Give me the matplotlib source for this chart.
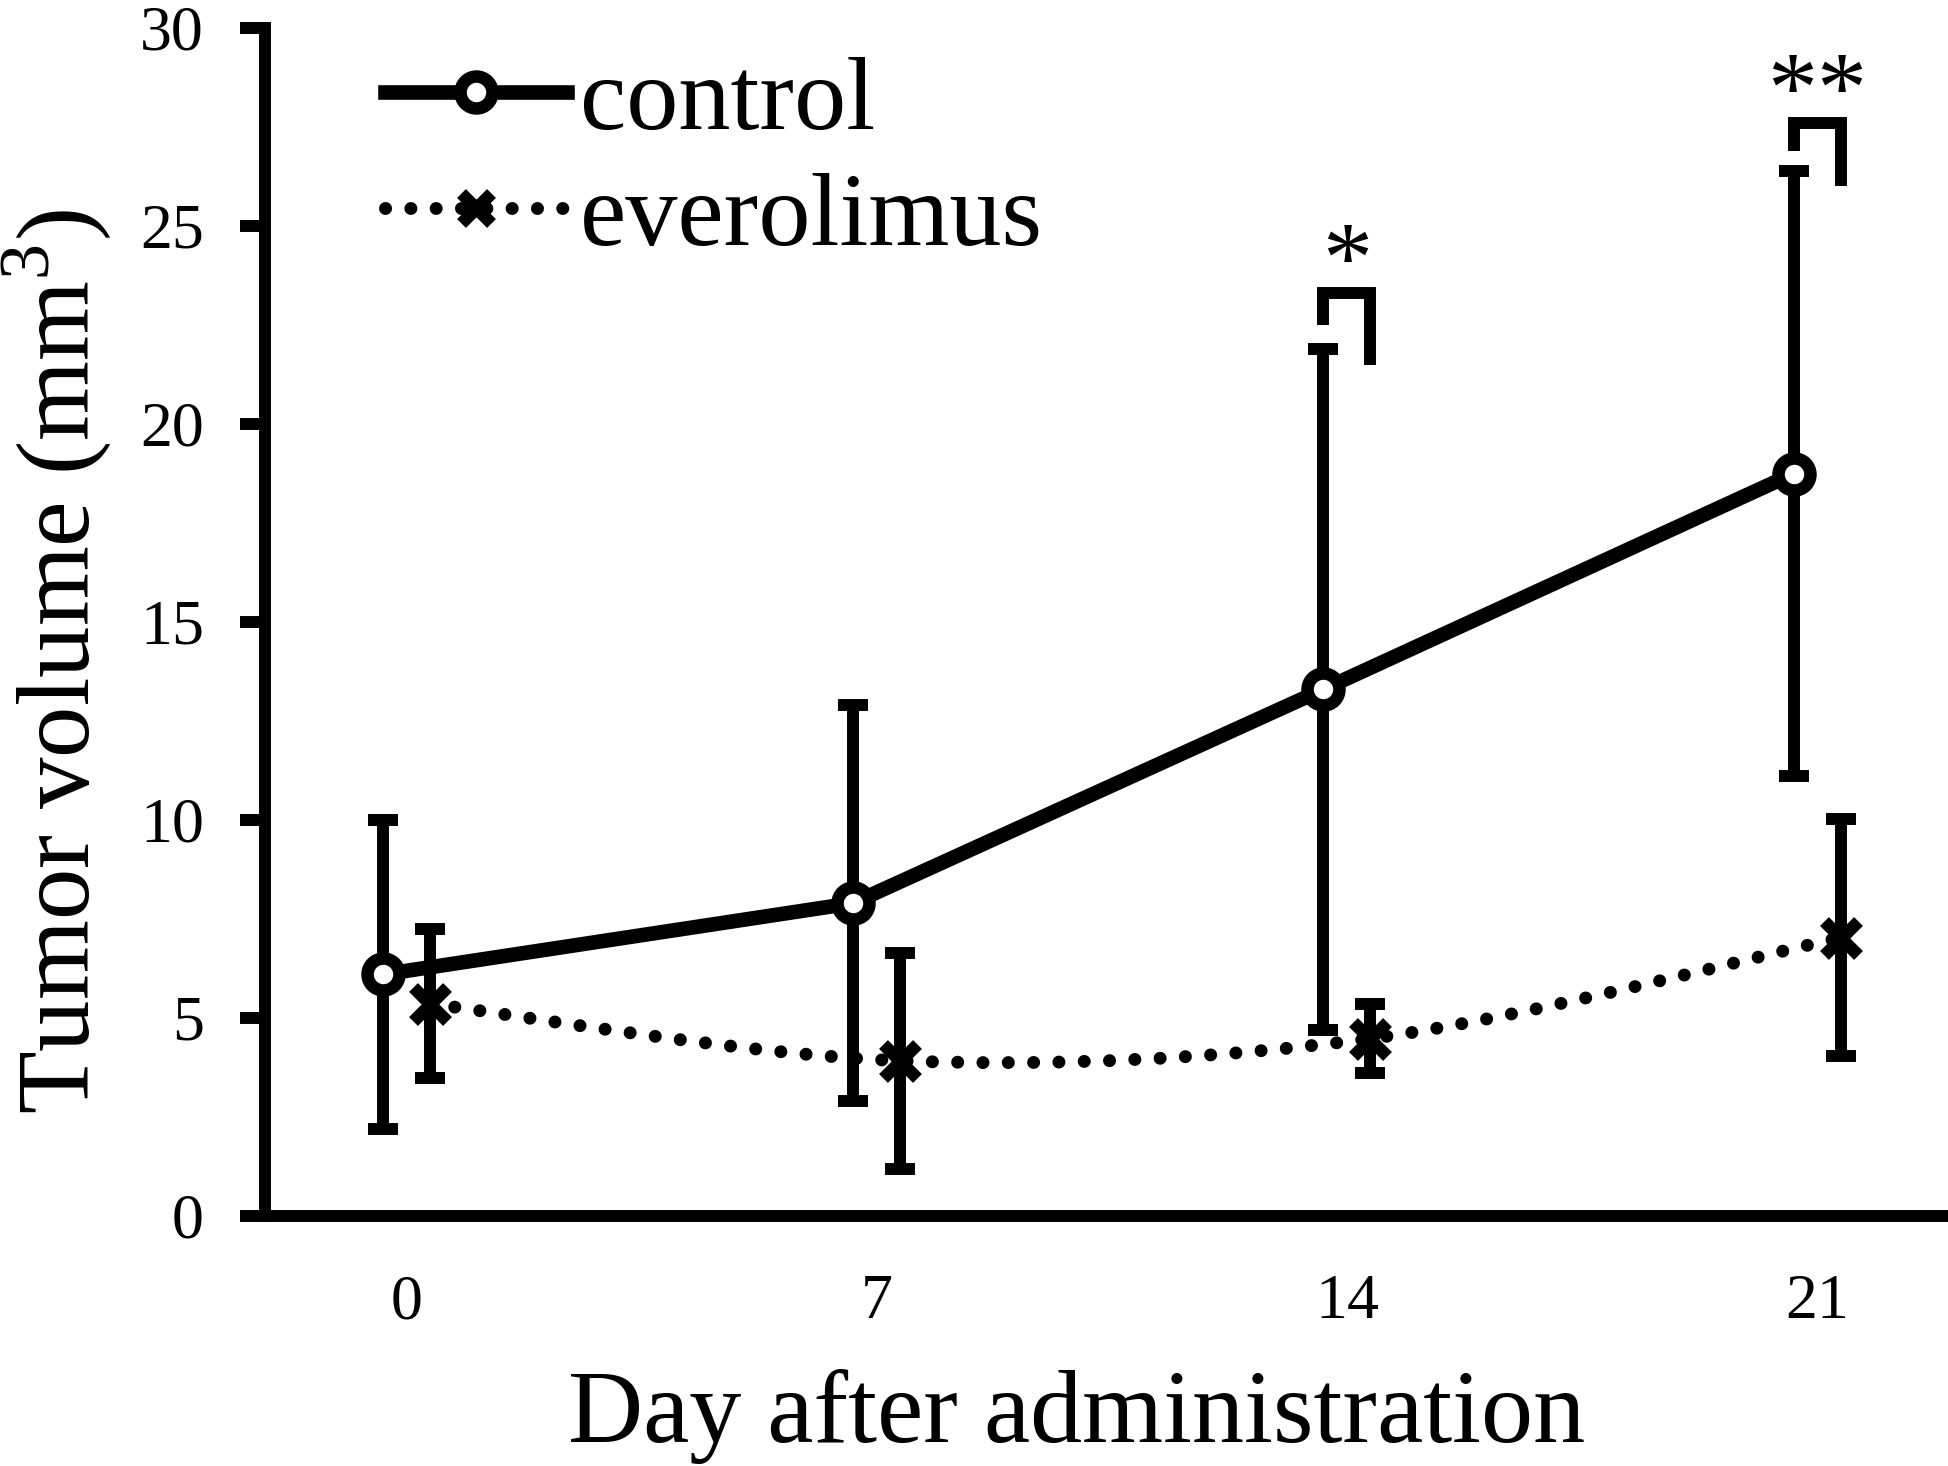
import numpy as np
import matplotlib
matplotlib.use("Agg")
import matplotlib.pyplot as plt
from matplotlib.path import Path
from matplotlib.patches import PathPatch
from matplotlib.lines import Line2D

# --- data -------------------------------------------------------------------
days = ["0", "7", "14", "21"]
control_mean = [6.1, 7.9, 13.3, 18.75]
control_sd = [3.9, 5.0, 8.6, 7.65]
evero_mean = [5.36, 3.92, 4.48, 7.03]
evero_sd = [1.88, 2.73, 0.88, 3.0]

# significance brackets between the two groups
sig_idx = [2, 3]
sig_text = ["*", "**"]
sig_top = [23.3, 27.6]
sig_left_end = [22.5, 26.9]
sig_right_end = [21.5, 26.0]
sig_text_y = [22.85, 27.15]
# -----------------------------------------------------------------------------

plt.rcParams["font.family"] = "Liberation Serif"
plt.rcParams["mathtext.fontset"] = "custom"
plt.rcParams["mathtext.rm"] = "Liberation Serif"

W, H = 1949, 1466
fig = plt.figure(figsize=(W / 100, H / 100), dpi=100)
ax = fig.add_axes([265 / W, 250 / H, 1 - 265 / W, (1216 - 28) / H])

LW = 8.6
OFF = 0.05
DOTS = (0, (0.01, 1.95))
x = np.arange(len(days))
xc = x - OFF
xe = x + OFF

# control: solid line, open circles
ax.errorbar(xc, control_mean, yerr=control_sd, fmt="none", ecolor="k",
            elinewidth=LW, capsize=11, capthick=LW, zorder=2)
ax.plot(xc, control_mean, "-", color="k", lw=10.5, marker="o", ms=23,
        mfc="white", mec="k", mew=9, zorder=4)

# everolimus: smoothed dotted line, x markers
ax.errorbar(xe, evero_mean, yerr=evero_sd, fmt="none", ecolor="k",
            elinewidth=LW, capsize=11, capthick=LW, zorder=2)
pts = np.column_stack([xe, evero_mean])
ext = np.vstack([pts[0], pts, pts[-1]])
verts, codes = [pts[0]], [Path.MOVETO]
for i in range(len(pts) - 1):
    p0, p1, p2, p3 = ext[i], ext[i + 1], ext[i + 2], ext[i + 3]
    verts += [p1 + (p2 - p0) / 6, p2 - (p3 - p1) / 6, p2]
    codes += [Path.CURVE4] * 3
ax.add_patch(PathPatch(Path(verts, codes), fill=False, ec="k", lw=9.3,
                       linestyle=DOTS, capstyle="round", zorder=3))
ax.plot(xe, evero_mean, ls="none", marker="x", ms=24, mec="k", mew=9,
        zorder=5)

# significance brackets
for i, top, le, re in zip(sig_idx, sig_top, sig_left_end, sig_right_end):
    ax.plot([xc[i], xc[i], xe[i], xe[i]], [le, top, top, re], color="k",
            lw=LW, solid_joinstyle="miter", solid_capstyle="butt", zorder=3)
for i, t, ty in zip(sig_idx, sig_text, sig_text_y):
    ax.text(x[i], ty, t, ha="center", va="bottom", fontsize=72)

ax.set_xlim(-0.30, 3.28)
ax.set_ylim(0, 30)
ax.set_xticks(x)
ax.set_xticklabels(days)
ax.set_yticks(np.arange(0, 31, 5))
ax.tick_params(axis="x", length=0, pad=42, labelsize=46)
ax.tick_params(axis="y", length=18, width=LW, pad=26, labelsize=46,
               direction="out")
for s in ["top", "right"]:
    ax.spines[s].set_visible(False)
for s in ["left", "bottom"]:
    ax.spines[s].set_linewidth(LW)
    ax.spines[s].set_color("k")

fig.text(1077 / W, 1 - 1442 / H, "Day after administration", ha="center",
         va="baseline", fontsize=75)
fig.text(56 / W, 1 - 662 / H, r"Tumor volume (mm$^{3}$)", ha="center",
         va="center", rotation=90, fontsize=74)

handles = [
    Line2D([], [], color="k", lw=10.5, marker="o", ms=23, mfc="white",
           mec="k", mew=9),
    Line2D([], [], color="k", lw=9.3, linestyle=DOTS, dash_capstyle="round",
           marker="x", ms=22, mec="k", mew=9),
]
ax.legend(handles, ["control", "everolimus"], loc="upper left",
          bbox_to_anchor=(385 / W, 1 - 56 / H), bbox_transform=fig.transFigure,
          frameon=False, fontsize=75, handlelength=1.75, handletextpad=0.12,
          labelspacing=0.2, borderpad=0, borderaxespad=0)

fig.savefig("out.png", dpi=100)
